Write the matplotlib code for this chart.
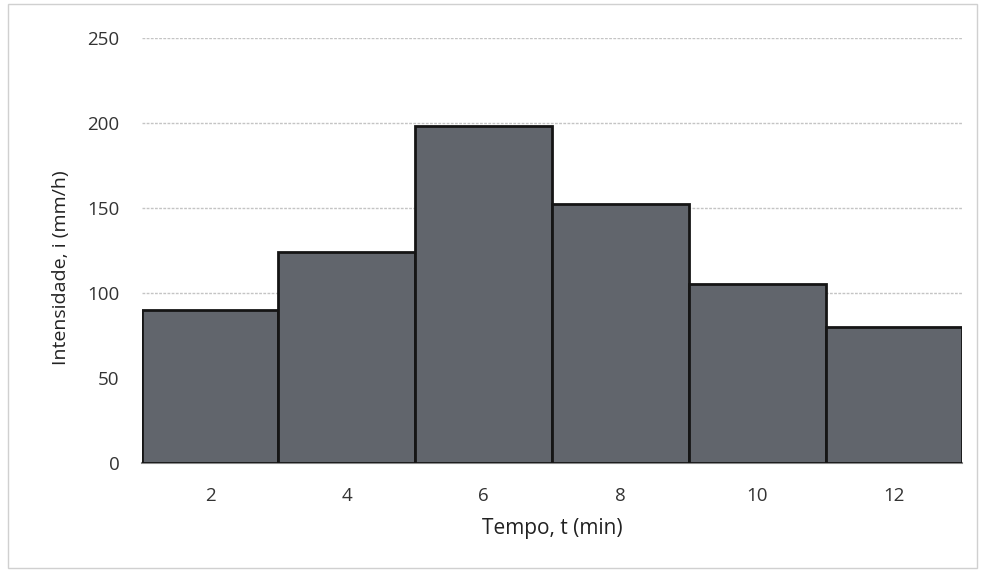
import numpy as np
import matplotlib.pyplot as plt
from matplotlib.patches import Rectangle

tempo = ['2', '4', '6', '8', '10', '12']
intensidade = [90, 124, 198, 152, 105, 80]

plt.rcParams['font.family'] = ['Open Sans', 'DejaVu Sans']

fig = plt.figure(figsize=(9.84, 5.73), dpi=100)
ax = fig.add_axes([0.144, 0.192, 0.834, 0.742])

x = np.arange(len(tempo))
ax.bar(x, intensidade, width=1.0, color='#61656c', edgecolor='#151515', linewidth=2.0, zorder=3)

ax.set_xlim(-0.5, len(tempo) - 0.5)
ax.set_ylim(0, 250)
ax.set_yticks([0, 50, 100, 150, 200, 250])
ax.set_xticks(x)
ax.set_xticklabels(tempo)
ax.tick_params(axis='both', length=0, labelsize=13.5, colors='#333333')
ax.tick_params(axis='x', pad=17)
ax.tick_params(axis='y', pad=16)
ax.yaxis.grid(True, color='#c4c4c4', linewidth=1.0, linestyle=(0, (2, 1)))
ax.set_axisbelow(True)
for s in ['top', 'right', 'left']:
    ax.spines[s].set_visible(False)
ax.spines['bottom'].set_color('#8a8a8a')
ax.spines['bottom'].set_linewidth(1.5)

ax.set_xlabel('Tempo, t (min)', fontsize=15, color='#222222', labelpad=10)
ax.set_ylabel('Intensidade, i (mm/h)', fontsize=14, color='#222222')
ax.yaxis.set_label_coords(-0.087, 0.46)

fig.patches.append(Rectangle((0.008, 0.008), 0.985, 0.985, transform=fig.transFigure,
                             fill=False, edgecolor='#d0d0d0', linewidth=1.0))

plt.savefig('out.png', dpi=100)
